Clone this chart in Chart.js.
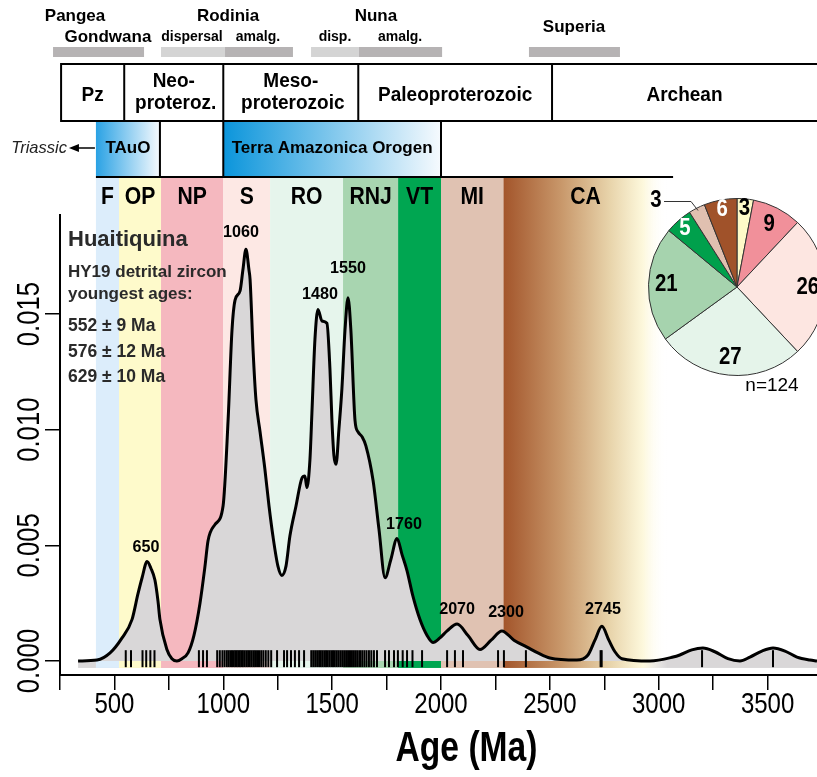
<!DOCTYPE html>
<html>
<head>
<meta charset="utf-8">
<script src="https://cdn.jsdelivr.net/npm/chart.js@4.4.1/dist/chart.umd.min.js"></script>
<style>
  html, body { margin: 0; padding: 0; background: #fff; overflow: hidden; }
  #wrap { position: relative; width: 817px; height: 777px; overflow: hidden; }
  #main { position: absolute; left: 0; top: 0; }
  #pie { position: absolute; left: 627px; top: 187px; }
</style>
</head>
<body>
<div id="wrap">
  <canvas id="main" width="817" height="777"></canvas>
  <canvas id="pie" width="220" height="200"></canvas>
</div>
<script>
// --- data ---

// kernel density estimate (age in Ma, probability density)
const kdeAges = [333, 420, 480, 535, 581, 608, 627, 650, 668, 686, 700, 709, 741, 764, 787, 810, 838, 865, 893, 916,
  930, 962, 999, 1022, 1040, 1054, 1077, 1090, 1104, 1118, 1123, 1137, 1150, 1169, 1191, 1210, 1228, 1251, 1269, 1288,
  1306, 1334, 1361, 1375, 1384, 1398, 1407, 1421, 1435, 1453, 1476, 1490, 1499, 1508, 1518, 1531, 1545, 1559, 1573, 1586,
  1605, 1619, 1637, 1655, 1688, 1715, 1743, 1770, 1798, 1821, 1844, 1871, 1903, 1936, 1963, 1995, 2028, 2074, 2124, 2179,
  2230, 2280, 2335, 2395, 2445, 2500, 2624, 2675, 2707, 2739, 2771, 2799, 2831, 2960, 3066, 3097, 3152, 3203, 3258, 3318,
  3373, 3419, 3474, 3525, 3580, 3635, 3695, 3727];
const kdeDensity = [0, 0.00004, 0.00035, 0.0010, 0.0018, 0.0029, 0.0036, 0.0043, 0.0040, 0.0035, 0.0026, 0.0018, 0.0005, 0.0001, 0.0000, 0.0001, 0.00035, 0.0011, 0.0025, 0.0041,
  0.0052, 0.0059, 0.0067, 0.0104, 0.0143, 0.0156, 0.0160, 0.0169, 0.0178, 0.0169, 0.0165, 0.0134, 0.0113, 0.0099, 0.0083, 0.0067, 0.0054, 0.0041, 0.0037, 0.0041,
  0.0054, 0.0067, 0.0079, 0.0080, 0.0075, 0.0087, 0.0107, 0.0139, 0.0152, 0.0147, 0.0146, 0.0126, 0.0104, 0.0089, 0.0085, 0.0100, 0.0118, 0.0143, 0.0157, 0.0143,
  0.0104, 0.0099, 0.0097, 0.0093, 0.0078, 0.0057, 0.0036, 0.0044, 0.0053, 0.0046, 0.0039, 0.0028, 0.0018, 0.0011, 0.0008, 0.0010, 0.0013, 0.0016, 0.0011, 0.0005,
  0.0009, 0.0013, 0.0009, 0.0006, 0.00035, 0.00013, 0.00004, 0.00026, 0.0009, 0.0015, 0.0009, 0.0004, 0.0001, 0.0000, 0.00017, 0.00026, 0.00048, 0.00056, 0.0004, 0.0001,
  0.0000, 0.00017, 0.00043, 0.00056, 0.00043, 0.00017, 0.00004, 0.0000];

// single grain ages (rug)
const grainAges = [552, 576, 629, 646, 665, 684,
  888, 907, 925,
  972, 984, 996, 1006, 1016, 1024, 1032, 1040, 1048, 1055, 1062, 1069, 1076, 1083, 1090, 1098, 1106, 1114, 1122, 1130,
  1138, 1146, 1155, 1164, 1174, 1184, 1195, 1207, 1220,
  1247, 1279, 1293, 1311, 1329, 1348, 1371,
  1404, 1413, 1422, 1431, 1440, 1448, 1456, 1464, 1472, 1480, 1488, 1496, 1504, 1512, 1520, 1528, 1537, 1546, 1555, 1564,
  1573, 1582, 1591, 1600, 1609, 1618, 1628, 1638, 1648, 1658, 1669, 1680, 1692, 1706,
  1743, 1761, 1784, 1802, 1824, 1844, 1869, 1913,
  2028, 2064, 2101, 2262, 2289, 2390, 2733, 2738, 3199, 3525];

// peak labels
const peakText = ['650', '1060', '1480', '1550', '1760', '2070', '2300', '2745'];
const peakTextAge = [645, 1081, 1444, 1573, 1830, 2074, 2299, 2744];
const peakTextDensity = [0.00493, 0.01855, 0.01586, 0.01699, 0.00592, 0.00225, 0.00212, 0.00225];

// tectonic provinces
const provinceNames = ['F', 'OP', 'NP', 'S', 'RO', 'RNJ', 'VT', 'MI', 'CA'];
const provinceStart = [415, 521, 714, 1000, 1215, 1550, 1803, 2000, 2287];
const provinceEnd = [521, 714, 1000, 1215, 1550, 1803, 2000, 2287, 3040];
const provinceColors = ['#dcedfb', '#fefacb', '#f5b8bf', '#fde8e4', '#e6f5ec', '#a8d5b0', '#00a651', '#e0c2b2', null];

// pie: percentage per province
const pieNames = ['OP', 'NP', 'S', 'RO', 'RNJ', 'VT', 'MI', 'CA'];
const piePercent = [3, 9, 26, 27, 21, 5, 3, 6];
const pieColors = ['#fefac8', '#f1909a', '#fde6e1', '#e5f4ea', '#a6d3ae', '#00a04c', '#e0c0b0', '#a0522a'];
const pieTextColors = ['#000', '#000', '#000', '#000', '#000', '#fff', '#000', '#fff'];

// eons / eras
const eonNames = [['Pz'], ['Neo-', 'proteroz.'], ['Meso-', 'proterozoic'], ['Paleoproterozoic'], ['Archean']];
const eonBounds = [255, 545, 1000, 1620, 2510];

// orogens
const orogenNames = ['TAuO', '', 'Terra Amazonica Orogen'];
const orogenStart = [415, 709, 1000];
const orogenEnd = [709, 1000, 2000];

// supercontinent cycles
const superBarStart = [218, 714, 1008, 1403, 1623, 2404];
const superBarEnd = [636, 1008, 1320, 1623, 2005, 2822];
const superBarDark = [true, false, true, false, true, true];
const superNames = ['Pangea', 'Gondwana', 'Rodinia', 'dispersal', 'amalg.', 'Nuna', 'disp.', 'amalg.', 'Superia'];
const superNameAge = [319, 470, 1022, 856, 1159, 1701, 1513, 1812, 2611];
const superNameRow = [0, 1, 0, 1, 1, 0, 1, 1, 2];

const xTicks = [250, 500, 750, 1000, 1250, 1500, 1750, 2000, 2250, 2500, 2750, 3000, 3250, 3500];
const yTicks = [0, 0.005, 0.010, 0.015];

// --- drawing ---
const FONT = '"Liberation Sans", Arial, Helvetica, sans-serif';

function text(ctx, s, x, y, size, o = {}) {
  ctx.save();
  ctx.translate(x, y);
  if (o.rot) ctx.rotate(o.rot);
  ctx.scale(o.sx || 1, 1);
  ctx.font = (o.italic ? 'italic ' : '') + (o.bold ? 'bold ' : '') + size + 'px ' + FONT;
  ctx.textAlign = o.align || 'center';
  ctx.textBaseline = 'middle';
  ctx.fillStyle = o.color || '#000';
  ctx.fillText(s, 0, 0);
  ctx.restore();
}

const BAND_TOP = 177, RUG_LEVEL = 0.0001, STRIP_LOW = -0.0003;

const backgroundPlugin = {
  id: 'background',
  beforeDatasetsDraw(chart) {
    const ctx = chart.ctx, xs = chart.scales.x, ys = chart.scales.y;
    const X = v => xs.getPixelForValue(v);
    const y0 = ys.getPixelForValue(0), yLow = ys.getPixelForValue(STRIP_LOW);
    // grey strip under the baseline
    ctx.fillStyle = '#d9d7d8';
    ctx.fillRect(X(kdeAges[0]), y0, chart.chartArea.right - X(kdeAges[0]), yLow - y0);
    provinceNames.forEach((n, i) => {
      const a = X(provinceStart[i]), b = X(provinceEnd[i]);
      if (provinceColors[i]) {
        ctx.fillStyle = provinceColors[i];
      } else {
        const g = ctx.createLinearGradient(a, 0, b, 0);
        g.addColorStop(0, '#a3552b');
        g.addColorStop(0.35, '#c8976a');
        g.addColorStop(0.65, '#e8d4ab');
        g.addColorStop(0.85, '#fdf8dc');
        g.addColorStop(1, 'rgba(255,255,255,0)');
        ctx.fillStyle = g;
      }
      ctx.fillRect(a, BAND_TOP, b - a, yLow - BAND_TOP);
    });
  },
  afterDatasetsDraw(chart) {
    const ctx = chart.ctx, xs = chart.scales.x, ys = chart.scales.y;
    const X = v => xs.getPixelForValue(v);
    provinceNames.forEach((n, i) => {
      text(ctx, n, (X(provinceStart[i]) + X(provinceEnd[i])) / 2, 198, 23, { bold: true, sx: 0.92 });
    });
    peakText.forEach((t, i) => {
      text(ctx, t, X(peakTextAge[i]), ys.getPixelForValue(peakTextDensity[i]), 17, { bold: true, sx: 0.95 });
    });
    const lx = chart.chartArea.left + 8;
    text(ctx, 'Huaitiquina', lx, 240, 22, { bold: true, align: 'left', color: '#2a2a2a' });
    text(ctx, 'HY19 detrital zircon', lx, 272, 17, { bold: true, align: 'left', color: '#2a2a2a' });
    text(ctx, 'youngest ages:', lx, 294, 17, { bold: true, align: 'left', color: '#2a2a2a' });
    text(ctx, '552 \u00b1 9 Ma', lx, 326, 17.5, { bold: true, align: 'left', color: '#2a2a2a' });
    text(ctx, '576 \u00b1 12 Ma', lx, 352, 17.5, { bold: true, align: 'left', color: '#2a2a2a' });
    text(ctx, '629 \u00b1 10 Ma', lx, 377, 17.5, { bold: true, align: 'left', color: '#2a2a2a' });
  },
  afterDraw(chart) {
    const ctx = chart.ctx, xs = chart.scales.x, ys = chart.scales.y;
    const X = v => xs.getPixelForValue(v);
    const right = chart.width + 5;

    // axis labels
    xs.ticks.forEach(t => {
      if (t.value % 500 === 0 && t.value >= 500) text(ctx, String(t.value), X(t.value), 705, 30, { sx: 0.8 });
    });
    ys.ticks.forEach(t => {
      text(ctx, t.value.toFixed(3), 30, ys.getPixelForValue(t.value), 31, { sx: 0.83, rot: -Math.PI / 2 });
    });
    text(ctx, 'Age (Ma)', (chart.chartArea.left + chart.chartArea.right) / 2 + 28, 749, 42, { bold: true, sx: 0.8 });

    // supercontinent bars
    superBarStart.forEach((s, i) => {
      ctx.fillStyle = superBarDark[i] ? '#b6b3b4' : '#d4d4d4';
      ctx.fillRect(X(s), 47, X(superBarEnd[i]) - X(s), 10);
    });
    superNames.forEach((n, i) => {
      const row = superNameRow[i];
      const y = row === 0 ? 16 : row === 1 ? 37 : 27;
      const size = (row === 1 && i !== 1) ? 14 : 17;
      text(ctx, n, X(superNameAge[i]), y, size, { bold: true });
    });

    // eon box
    ctx.strokeStyle = '#000';
    ctx.lineWidth = 2;
    ctx.strokeRect(X(eonBounds[0]), 64, right - X(eonBounds[0]), 57);
    eonNames.forEach((lines, i) => {
      const a = X(eonBounds[i]);
      const b = i + 1 < eonBounds.length ? X(eonBounds[i + 1]) : chart.width;
      if (i > 0) { ctx.beginPath(); ctx.moveTo(a, 64); ctx.lineTo(a, 121); ctx.stroke(); }
      const c = (a + b) / 2;
      if (lines.length === 1) text(ctx, lines[0], c, 95, 20, { bold: true, sx: 0.95 });
      else { text(ctx, lines[0], c, 81, 20, { bold: true, sx: 0.95 }); text(ctx, lines[1], c + 2, 103, 20, { bold: true, sx: 0.95 }); }
    });

    // orogen row
    orogenNames.forEach((n, i) => {
      const a = X(orogenStart[i]), b = X(orogenEnd[i]);
      if (n) {
        const g = ctx.createLinearGradient(a, 0, b, 0);
        g.addColorStop(0, i === 0 ? '#2aa2e4' : '#0b95db');
        g.addColorStop(1, '#f6fafe');
        ctx.fillStyle = g;
        ctx.fillRect(a, 122, b - a, 54);
        text(ctx, n, (a + b) / 2, 148, 17, { bold: true });
      }
    });
    ctx.lineWidth = 2;
    ctx.beginPath();
    [orogenStart[1], orogenStart[2], orogenEnd[2]].forEach(v => { ctx.moveTo(X(v), 121); ctx.lineTo(X(v), 177); });
    ctx.moveTo(X(orogenStart[0]), 177); ctx.lineTo(X(3066), 177);
    ctx.stroke();

    // Triassic arrow
    const ax = X(orogenStart[0]) - 1;
    ctx.lineWidth = 1.5;
    ctx.beginPath(); ctx.moveTo(ax, 148); ctx.lineTo(ax - 20, 148); ctx.stroke();
    ctx.fillStyle = '#000';
    ctx.beginPath(); ctx.moveTo(ax - 26, 148); ctx.lineTo(ax - 16, 144); ctx.lineTo(ax - 16, 152); ctx.closePath(); ctx.fill();
    text(ctx, 'Triassic', ax - 28, 148, 16.5, { italic: true, align: 'right', color: '#222' });

    text(ctx, 'n=124', 772, 386, 19);
  }
};

const mainChart = new Chart(document.getElementById('main'), {
  type: 'scatter',
  data: {
    datasets: [
      {
        label: 'grains',
        data: grainAges.map(a => ({ x: a, y: RUG_LEVEL })),
        pointStyle: 'line',
        rotation: 90,
        pointRadius: 8.5,
        borderColor: '#000',
        backgroundColor: '#000',
        borderWidth: 2
      },
      {
        type: 'line',
        label: 'KDE',
        data: kdeAges.map((a, i) => ({ x: a, y: kdeDensity[i] })),
        borderColor: '#000',
        borderWidth: 3,
        backgroundColor: '#d9d7d8',
        fill: 'origin',
        pointRadius: 0,
        cubicInterpolationMode: 'monotone'
      }
    ]
  },
  options: {
    responsive: false,
    animation: false,
    devicePixelRatio: 1,
    layout: { autoPadding: false, padding: { top: 215, right: 0, left: 0, bottom: 0 } },
    plugins: { legend: { display: false }, tooltip: { enabled: false } },
    scales: {
      x: {
        type: 'linear', min: 250, max: 3727,
        afterBuildTicks: s => { s.ticks = xTicks.map(v => ({ value: v })); },
        afterFit: s => { s.height = 102; },
        ticks: { display: false },
        grid: { drawOnChartArea: false, color: '#000', lineWidth: 1.5, tickLength: 15 },
        border: { color: '#000', width: 2 }
      },
      y: {
        min: -0.000605, max: 0.01928,
        afterBuildTicks: s => { s.ticks = yTicks.map(v => ({ value: v })); },
        afterFit: s => { s.width = 60; },
        ticks: { display: false },
        grid: { drawOnChartArea: false, color: '#000', lineWidth: 1.5, tickLength: 15 },
        border: { color: '#000', width: 2 }
      }
    }
  },
  plugins: [backgroundPlugin]
});

const pieLabelPlugin = {
  id: 'pieLabels',
  afterDatasetsDraw(chart) {
    const ctx = chart.ctx;
    chart.getDatasetMeta(0).data.forEach((arc, i) => {
      const mid = (arc.startAngle + arc.endAngle) / 2;
      const r = arc.outerRadius;
      if (pieNames[i] === 'MI') {
        const ox = arc.x + Math.cos(mid) * r * 0.97, oy = arc.y + Math.sin(mid) * r * 0.97;
        ctx.strokeStyle = '#333';
        ctx.lineWidth = 1;
        ctx.beginPath();
        ctx.moveTo(ox, oy); ctx.lineTo(ox - 7, oy - 9); ctx.lineTo(ox - 34, oy - 9);
        ctx.stroke();
        text(ctx, String(piePercent[i]), ox - 42, oy - 10, 24, { bold: true, sx: 0.85 });
        return;
      }
      const f = piePercent[i] <= 6 ? 0.89 : 0.8;
      text(ctx, String(piePercent[i]), arc.x + Math.cos(mid) * r * f, arc.y + Math.sin(mid) * r * f, 24,
        { bold: true, sx: 0.85, color: pieTextColors[i] });
    });
  }
};

const pieChart = new Chart(document.getElementById('pie'), {
  type: 'pie',
  data: {
    labels: pieNames,
    datasets: [{ data: piePercent, backgroundColor: pieColors, borderColor: '#333', borderWidth: 1 }]
  },
  options: {
    responsive: false,
    animation: false,
    devicePixelRatio: 1,
    layout: { padding: { left: 21, right: 21, top: 11, bottom: 11 } },
    plugins: { legend: { display: false }, tooltip: { enabled: false } }
  },
  plugins: [pieLabelPlugin]
});
</script>
</body>
</html>
